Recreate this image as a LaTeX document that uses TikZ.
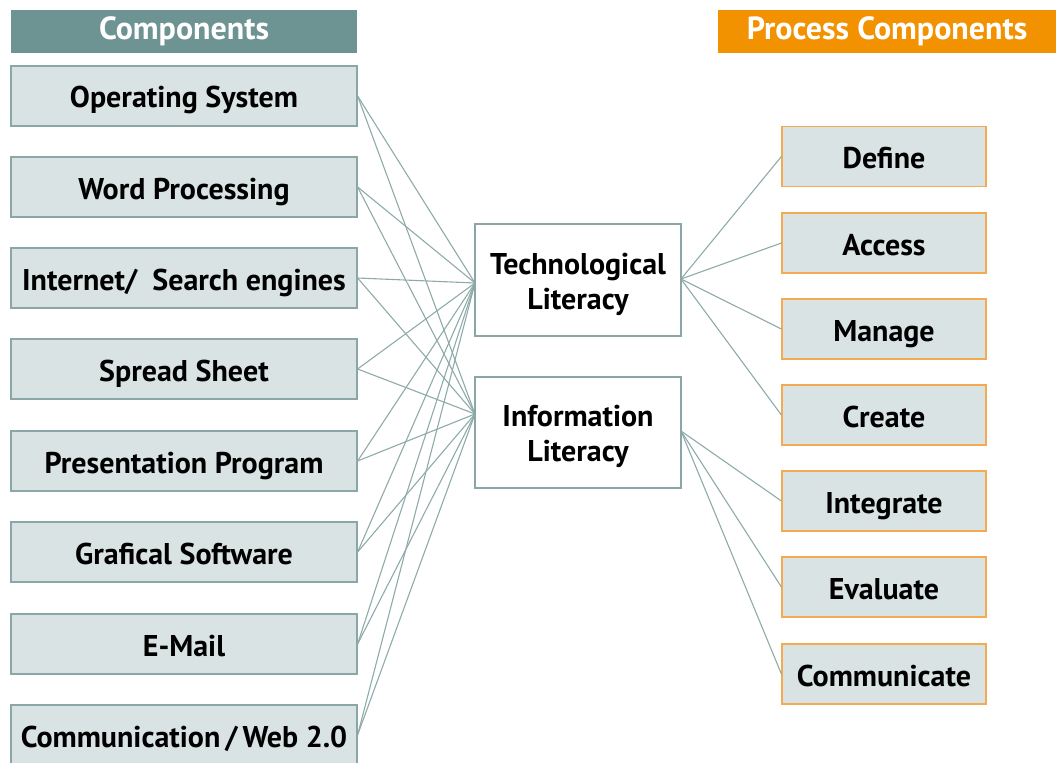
\documentclass[tikz,border=0pt]{standalone}
\usepackage{fontspec}
\setmainfont{PT Sans}
\definecolor{hdteal}{HTML}{6E9393}
\definecolor{boxfill}{HTML}{D9E3E3}
\definecolor{boxline}{HTML}{8AA6A6}
\definecolor{conn}{HTML}{8FAAAA}
\definecolor{hdorange}{HTML}{F39200}
\definecolor{orline}{HTML}{F3AA50}
\tikzset{
  lbox/.style={draw=boxline, fill=boxfill, line width=1.2pt, minimum width=346pt, minimum height=60pt, inner sep=0pt, text height=27pt, text depth=3pt, font=\fontsize{30}{36}\selectfont\bfseries},
  rbox/.style={draw=orline, fill=boxfill, line width=1.2pt, minimum width=204pt, minimum height=60pt, inner sep=0pt, text height=27pt, text depth=3pt, font=\fontsize{30}{36}\selectfont\bfseries},
  mbox/.style={draw=boxline, fill=white, line width=1.8pt, minimum width=206pt, minimum height=111pt, inner sep=0pt, align=center, font=\fontsize{30}{35}\selectfont\bfseries},
  hdr/.style={minimum height=43pt, inner sep=0pt, text=white, font=\fontsize{32}{36}\selectfont\bfseries},
  conline/.style={draw=conn, line width=1.1pt}
}
\begin{document}
\begin{tikzpicture}[x=1pt,y=-1pt]
\useasboundingbox (0,0) rectangle (1056,762);
% headers
\node[hdr, fill=hdteal, minimum width=346pt] (hc) at (184,31.5) {Components};
\node[hdr, fill=hdorange, minimum width=338pt] (hp) at (887,31.5) {Process Components};
% left boxes
\node[lbox] (os) at (184,96) {Operating System};
\node[lbox] (wp) at (184,187) {Word Processing};
\node[lbox] (is) at (184,278) {Internet/\hspace{0.5em}Search engines};
\node[lbox] (ss) at (184,369) {Spread Sheet};
\node[lbox] (pp) at (184,461) {Presentation Program};
\node[lbox] (gs) at (184,552) {Grafical Software};
\node[lbox] (em) at (184,644) {E-Mail};
\node[lbox] (cw) at (184,735) {Communication\,/\,Web 2.0};
% right boxes
\node[rbox] (def) at (884,156.5) {Define};
\node[rbox] (acc) at (884,243) {Access};
\node[rbox] (man) at (884,329) {Manage};
\node[rbox] (cre) at (884,415) {Create};
\node[rbox] (int) at (884,501) {Integrate};
\node[rbox] (eva) at (884,587) {Evaluate};
\node[rbox] (com) at (884,674) {Communicate};
% connection points
\coordinate (tl) at (475,283);
\coordinate (il) at (475,414);
\coordinate (tr) at (681,279);
\coordinate (ir) at (681,431);
% connectors left
\foreach \n in {os,wp,is,ss,pp,gs,em,cw}{
  \draw[conline] (\n.east) -- (tl);
  \draw[conline] (\n.east) -- (il);
}
% connectors right
\foreach \n in {def,acc,man,cre}{
  \draw[conline] (tr) -- (\n.west);
}
\foreach \n in {int,eva,com}{
  \draw[conline] (ir) -- (\n.west);
}
% middle boxes (drawn over the line ends)
\node[mbox, minimum height=112pt] (tech) at (578,280) {\rule{0pt}{30pt}Technological\\Literacy};
\node[mbox] (info) at (578,432.5) {\rule{0pt}{30pt}Information\\Literacy};
\end{tikzpicture}
\end{document}
